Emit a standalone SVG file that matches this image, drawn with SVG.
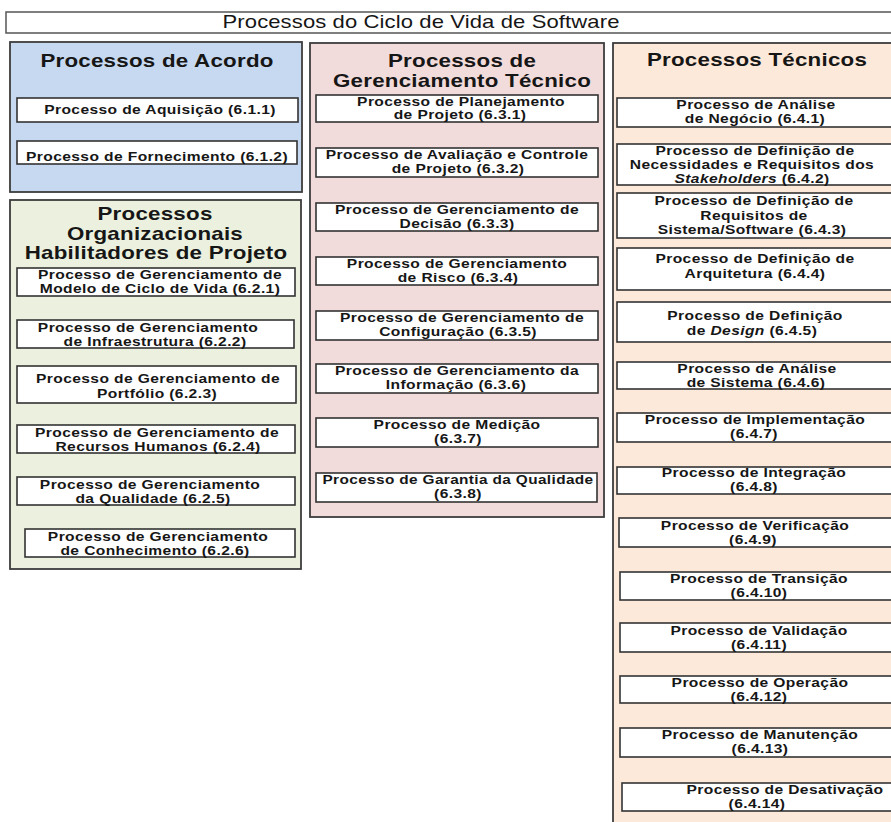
<svg xmlns="http://www.w3.org/2000/svg" width="891" height="822" viewBox="0 0 891 822">
<style>
.bg{fill:#ffffff}
.panel{stroke:#3c3c3c;stroke-width:1.8}
.acordo{fill:#c6d9f0}
.org{fill:#ebf1de}
.ger{fill:#f2dcdb}
.tec{fill:#fde9d9}
.box{fill:#ffffff;stroke:#333333;stroke-width:1.6}
.title-box{fill:#ffffff;stroke:#555555;stroke-width:1.5}
text{font-family:"Liberation Sans",Arial,sans-serif;fill:#161616;text-anchor:middle}
.ttl{font-size:19px;letter-spacing:0.1px}
.h{font-size:18px;font-weight:bold;letter-spacing:0.2px}
.t{font-size:12px;font-weight:bold;letter-spacing:0.3px}
.i{font-style:italic}
</style>
<rect class="bg" x="0" y="0" width="891" height="822"/>

<g id="title">
<rect class="title-box" x="6" y="12" width="890" height="21"/>
<text class="ttl" transform="translate(421 28) scale(1.16 1)">Processos do Ciclo de Vida de Software</text>
</g>

<!-- Processos de Acordo -->
<g id="panel-acordo">
<rect class="panel acordo" x="10" y="42" width="292" height="150"/>
<text class="h" transform="translate(157 67) scale(1.24 1)">Processos de Acordo</text>
</g>
<g id="p611">
<rect class="box" x="17" y="98" width="281" height="24"/>
<text class="t" transform="translate(160 114) scale(1.3 1)">Processo de Aquisição  (6.1.1)</text>
</g>
<g id="p612">
<rect class="box" x="17" y="141" width="280" height="23"/>
<text class="t" transform="translate(157 161) scale(1.3 1)">Processo de Fornecimento  (6.1.2)</text>
</g>

<!-- Processos Organizacionais -->
<g id="panel-org">
<rect class="panel org" x="10" y="200" width="291" height="369"/>
<text class="h" transform="translate(155 220) scale(1.24 1)">Processos</text>
<text class="h" transform="translate(155 240) scale(1.24 1)">Organizacionais</text>
<text class="h" transform="translate(156 259) scale(1.24 1)">Habilitadores de Projeto</text>
</g>
<g id="p621">
<rect class="box" x="17" y="268" width="278" height="28"/>
<text class="t" transform="translate(160 279) scale(1.3 1)">Processo de Gerenciamento  de</text>
<text class="t" transform="translate(160 293) scale(1.3 1)">Modelo  de Ciclo  de Vida (6.2.1)</text>
</g>
<g id="p622">
<rect class="box" x="17" y="320" width="277" height="28"/>
<text class="t" transform="translate(148 332) scale(1.3 1)">Processo de Gerenciamento</text>
<text class="t" transform="translate(155 346) scale(1.3 1)">de Infraestrutura (6.2.2)</text>
</g>
<g id="p623">
<rect class="box" x="17" y="366" width="279" height="37"/>
<text class="t" transform="translate(158 383) scale(1.3 1)">Processo de Gerenciamento  de</text>
<text class="t" transform="translate(157 398) scale(1.3 1)">Portfólio (6.2.3)</text>
</g>
<g id="p624">
<rect class="box" x="17" y="425" width="278" height="28"/>
<text class="t" transform="translate(157 437) scale(1.3 1)">Processo de Gerenciamento  de</text>
<text class="t" transform="translate(158 451) scale(1.3 1)">Recursos  Humanos  (6.2.4)</text>
</g>
<g id="p625">
<rect class="box" x="17" y="477" width="278" height="28"/>
<text class="t" transform="translate(150 489) scale(1.3 1)">Processo  de Gerenciamento</text>
<text class="t" transform="translate(153 503) scale(1.3 1)">da Qualidade  (6.2.5)</text>
</g>
<g id="p626">
<rect class="box" x="25" y="529" width="270" height="28"/>
<text class="t" transform="translate(158 541) scale(1.3 1)">Processo  de Gerenciamento</text>
<text class="t" transform="translate(155 555) scale(1.3 1)">de Conhecimento  (6.2.6)</text>
</g>

<!-- Processos de Gerenciamento Técnico -->
<g id="panel-ger">
<rect class="panel ger" x="310" y="43" width="294" height="474"/>
<text class="h" transform="translate(462 67) scale(1.24 1)">Processos de</text>
<text class="h" transform="translate(462 87) scale(1.24 1)">Gerenciamento Técnico</text>
</g>
<g id="p631">
<rect class="box" x="316" y="95" width="282" height="27"/>
<text class="t" transform="translate(461 106) scale(1.3 1)">Processo de Planejamento</text>
<text class="t" transform="translate(460 119) scale(1.3 1)">de Projeto (6.3.1)</text>
</g>
<g id="p632">
<rect class="box" x="316" y="148" width="282" height="29"/>
<text class="t" transform="translate(457 159) scale(1.3 1)">Processo de Avaliação  e Controle</text>
<text class="t" transform="translate(458 173) scale(1.3 1)">de Projeto (6.3.2)</text>
</g>
<g id="p633">
<rect class="box" x="316" y="203" width="282" height="28"/>
<text class="t" transform="translate(457 214) scale(1.3 1)">Processo de Gerenciamento  de</text>
<text class="t" transform="translate(457 228) scale(1.3 1)">Decisão  (6.3.3)</text>
</g>
<g id="p634">
<rect class="box" x="316" y="257" width="282" height="28"/>
<text class="t" transform="translate(457 268) scale(1.3 1)">Processo de Gerenciamento</text>
<text class="t" transform="translate(458 282) scale(1.3 1)">de Risco (6.3.4)</text>
</g>
<g id="p635">
<rect class="box" x="316" y="311" width="282" height="29"/>
<text class="t" transform="translate(462 322) scale(1.3 1)">Processo de Gerenciamento  de</text>
<text class="t" transform="translate(458 336) scale(1.3 1)">Configuração  (6.3.5)</text>
</g>
<g id="p636">
<rect class="box" x="316" y="364" width="282" height="29"/>
<text class="t" transform="translate(457 375) scale(1.3 1)">Processo de Gerenciamento  da</text>
<text class="t" transform="translate(456 389) scale(1.3 1)">Informação  (6.3.6)</text>
</g>
<g id="p637">
<rect class="box" x="316" y="418" width="282" height="29"/>
<text class="t" transform="translate(457 429) scale(1.3 1)">Processo de Medição</text>
<text class="t" transform="translate(458 443) scale(1.3 1)">(6.3.7)</text>
</g>
<g id="p638">
<rect class="box" x="316" y="473" width="281" height="29"/>
<text class="t" transform="translate(458 484) scale(1.28 1)">Processo de Garantia da Qualidade</text>
<text class="t" transform="translate(458 498) scale(1.3 1)">(6.3.8)</text>
</g>

<!-- Processos Técnicos -->
<g id="panel-tec">
<rect class="panel tec" x="613" y="43" width="290" height="790"/>
<text class="h" transform="translate(757 66) scale(1.24 1)">Processos Técnicos</text>
</g>
<g id="p641">
<rect class="box" x="617" y="98" width="285" height="29"/>
<text class="t" transform="translate(756 109) scale(1.3 1)">Processo de Análise</text>
<text class="t" transform="translate(755 123) scale(1.3 1)">de Negócio (6.4.1)</text>
</g>
<g id="p642">
<rect class="box" x="617" y="144" width="285" height="41"/>
<text class="t" transform="translate(755 155) scale(1.3 1)">Processo de Definição  de</text>
<text class="t" transform="translate(752 169) scale(1.3 1)">Necessidades  e Requisitos  dos</text>
<text class="t" transform="translate(752 183) scale(1.3 1)"><tspan class="i">Stakeholders</tspan>  (6.4.2)</text>
</g>
<g id="p643">
<rect class="box" x="617" y="193" width="285" height="45"/>
<text class="t" transform="translate(754 205) scale(1.3 1)">Processo de Definição  de</text>
<text class="t" transform="translate(754 220) scale(1.3 1)">Requisitos  de</text>
<text class="t" transform="translate(752 234) scale(1.3 1)">Sistema/Software  (6.4.3)</text>
</g>
<g id="p644">
<rect class="box" x="617" y="248" width="285" height="42"/>
<text class="t" transform="translate(755 263) scale(1.3 1)">Processo de Definição  de</text>
<text class="t" transform="translate(755 278) scale(1.3 1)">Arquitetura (6.4.4)</text>
</g>
<g id="p645">
<rect class="box" x="617" y="302" width="285" height="40"/>
<text class="t" transform="translate(755 320) scale(1.3 1)">Processo de Definição</text>
<text class="t" transform="translate(752 335) scale(1.3 1)">de <tspan class="i">Design</tspan>  (6.4.5)</text>
</g>
<g id="p646">
<rect class="box" x="617" y="362" width="285" height="27"/>
<text class="t" transform="translate(757 373) scale(1.3 1)">Processo de Análise</text>
<text class="t" transform="translate(756 387) scale(1.3 1)">de Sistema  (6.4.6)</text>
</g>
<g id="p647">
<rect class="box" x="617" y="413" width="285" height="29"/>
<text class="t" transform="translate(755 424) scale(1.3 1)">Processo de Implementação</text>
<text class="t" transform="translate(754 438) scale(1.3 1)">(6.4.7)</text>
</g>
<g id="p648">
<rect class="box" x="617" y="467" width="285" height="27"/>
<text class="t" transform="translate(754 477) scale(1.3 1)">Processo de Integração</text>
<text class="t" transform="translate(754 491) scale(1.3 1)">(6.4.8)</text>
</g>
<g id="p649">
<rect class="box" x="619" y="518" width="283" height="29"/>
<text class="t" transform="translate(755 530) scale(1.3 1)">Processo de Verificação</text>
<text class="t" transform="translate(753 544) scale(1.3 1)">(6.4.9)</text>
</g>
<g id="p6410">
<rect class="box" x="620" y="572" width="282" height="28"/>
<text class="t" transform="translate(759 583) scale(1.3 1)">Processo de Transição</text>
<text class="t" transform="translate(759 597) scale(1.3 1)">(6.4.10)</text>
</g>
<g id="p6411">
<rect class="box" x="620" y="623" width="282" height="29"/>
<text class="t" transform="translate(759 635) scale(1.3 1)">Processo de Validação</text>
<text class="t" transform="translate(759 649) scale(1.3 1)">(6.4.11)</text>
</g>
<g id="p6412">
<rect class="box" x="620" y="676" width="282" height="27"/>
<text class="t" transform="translate(760 687) scale(1.3 1)">Processo de Operação</text>
<text class="t" transform="translate(759 701) scale(1.3 1)">(6.4.12)</text>
</g>
<g id="p6413">
<rect class="box" x="620" y="728" width="282" height="29"/>
<text class="t" transform="translate(760 739) scale(1.3 1)">Processo de Manutenção</text>
<text class="t" transform="translate(760 753) scale(1.3 1)">(6.4.13)</text>
</g>
<g id="p6414">
<rect class="box" x="622" y="783" width="280" height="28"/>
<text class="t" transform="translate(785 794) scale(1.3 1)">Processo de Desativação</text>
<text class="t" transform="translate(757 808) scale(1.3 1)">(6.4.14)</text>
</g>
</svg>
